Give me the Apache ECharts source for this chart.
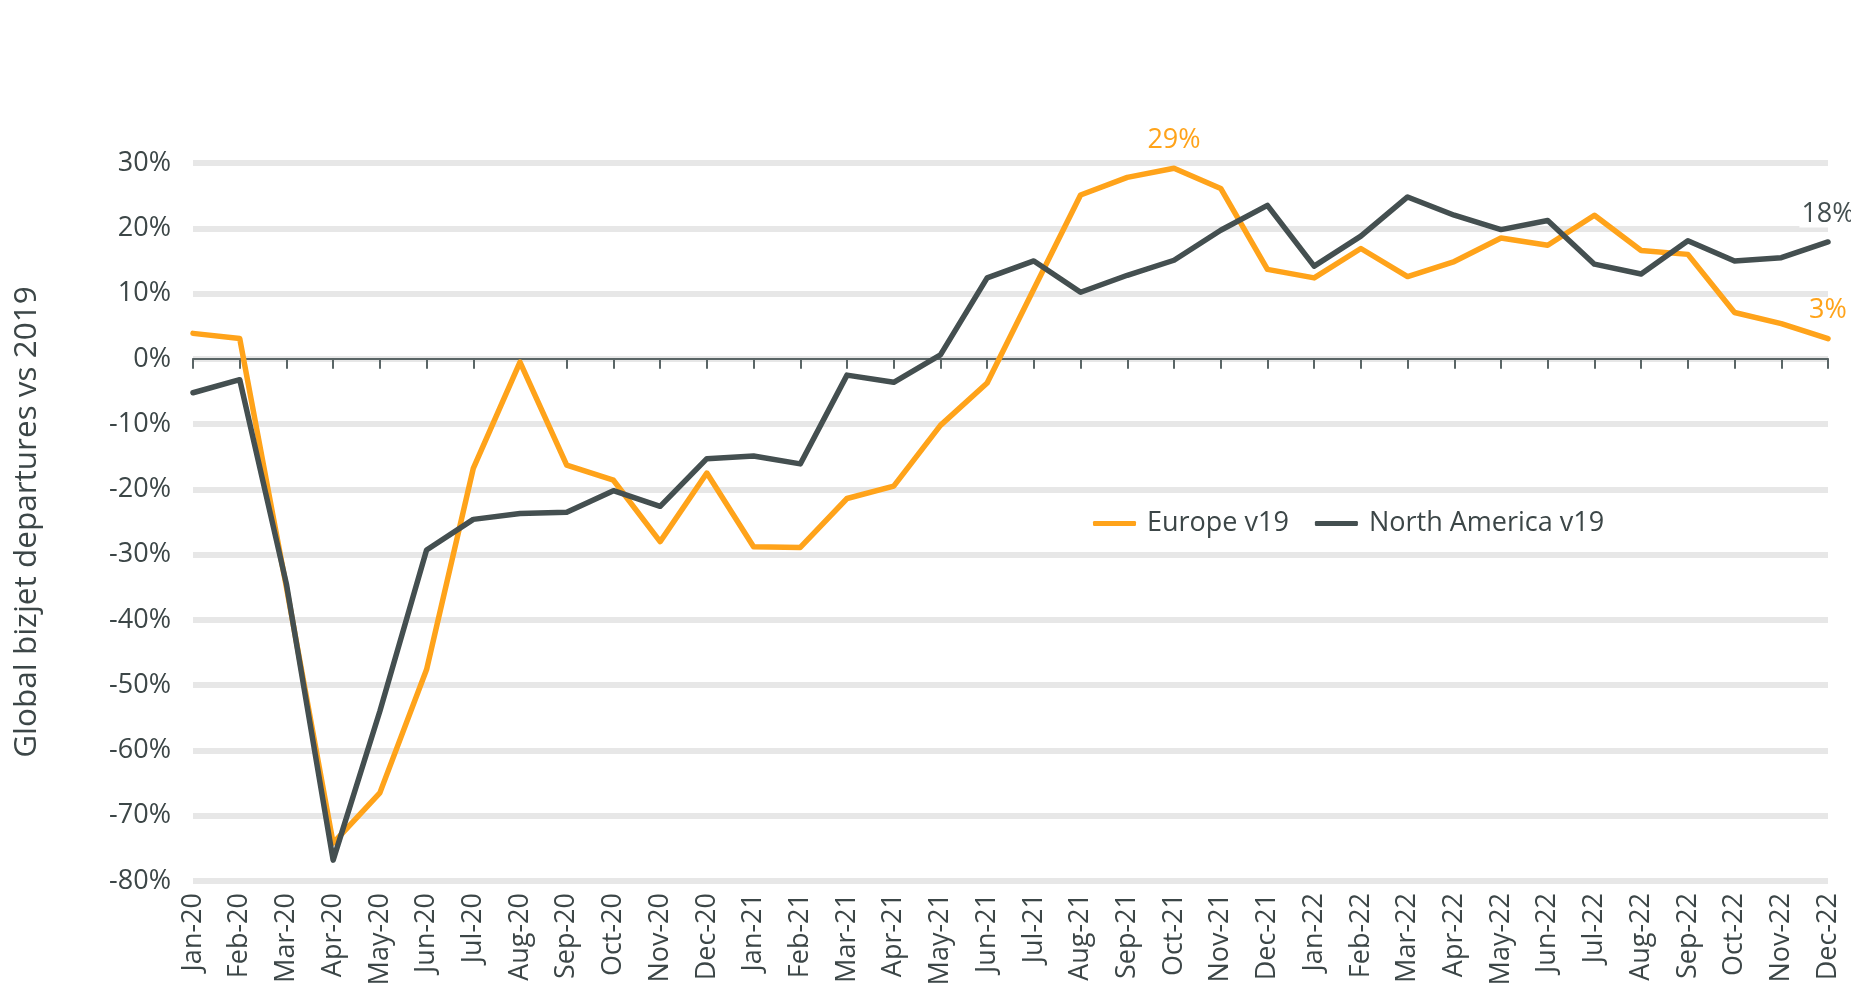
<!DOCTYPE html>
<html>

<head>
  <meta charset="utf-8">
  <script src="https://cdn.jsdelivr.net/npm/echarts@6/dist/echarts.min.js"></script>
  <style>
    html, body {
      margin: 0;
      padding: 0;
      background: #fff;
    }
    #chart {
      width: 1851px;
      height: 989px;
    }
  </style>
</head>

<body>
  <div id="chart"></div>
  <script>
    // months Jan-20 .. Dec-22
    const months = [
      'Jan-20', 'Feb-20', 'Mar-20', 'Apr-20', 'May-20', 'Jun-20', 'Jul-20', 'Aug-20', 'Sep-20', 'Oct-20', 'Nov-20', 'Dec-20',
      'Jan-21', 'Feb-21', 'Mar-21', 'Apr-21', 'May-21', 'Jun-21', 'Jul-21', 'Aug-21', 'Sep-21', 'Oct-21', 'Nov-21', 'Dec-21',
      'Jan-22', 'Feb-22', 'Mar-22', 'Apr-22', 'May-22', 'Jun-22', 'Jul-22', 'Aug-22', 'Sep-22', 'Oct-22', 'Nov-22', 'Dec-22'
    ]
    // % change vs 2019
    const europe = [
      3.9, 3.1, -35, -74.2, -66.5, -47.6, -16.8, -0.5, -16.3, -18.6, -28.0, -17.5,
      -28.8, -28.9, -21.4, -19.5, -10.2, -3.7, 10.7, 25.1, 27.8, 29.2, 26.1, 13.7,
      12.4, 16.9, 12.6, 14.9, 18.5, 17.4, 22.0, 16.6, 16.0, 7.1, 5.4, 3.1
    ]
    const northAmerica = [
      -5.2, -3.2, -34.5, -76.8, -54, -29.3, -24.6, -23.7, -23.5, -20.2, -22.6, -15.3,
      -14.9, -16.1, -2.5, -3.6, 0.6, 12.4, 15.0, 10.2, 12.8, 15.1, 19.7, 23.5,
      14.2, 18.8, 24.8, 22.0, 19.8, 21.2, 14.5, 13.0, 18.1, 15.0, 15.5, 17.9
    ]
    const yTicks = { min: -80, max: 30, step: 10 }
    // points that carry a value label
    const europeLabelAt = [21, 35]
    const naLabelAt = [35]

    const orange = '#ffa31a'
    const slate = '#444f50'
    const textColor = '#3c4647'
    const font = 'Open Sans'

    // labels on a line series hang off the symbols, so keep a tiny symbol
    function withLabels(values, idxList, color) {
      return values.map((v, i) => {
        if (idxList.indexOf(i) < 0) return v
        return {
          value: v,
          label: {
            show: true,
            position: 'top',
            distance: 14,
            color: color,
            fontFamily: font,
            fontSize: 27,
            backgroundColor: '#fff',
            padding: [0, 2],
            formatter: p => Math.round(p.value) + '%'
          }
        }
      })
    }

    const option = {
      animation: false,
      backgroundColor: '#fff',
      textStyle: { fontFamily: font },
      grid: {
        left: 193,
        right: 23,
        top: 163,
        bottom: 108
      },
      legend: {
        left: 1088,
        top: 505,
        icon: 'roundRect',
        itemWidth: 43,
        itemHeight: 5,
        itemGap: 26,
        textStyle: {
          color: textColor,
          fontSize: 27,
          fontFamily: font,
          padding: [0, 0, 0, 6]
        },
        data: ['Europe v19', 'North America v19']
      },
      xAxis: [{
        type: 'category',
        data: months,
        boundaryGap: false,
        axisLine: {
          onZero: true,
          lineStyle: { color: '#5a6566', width: 2 }
        },
        axisTick: {
          show: true,
          length: 10,
          interval: 0,
          lineStyle: { color: '#5a6566', width: 2 }
        },
        axisLabel: { show: false },
        splitLine: { show: false }
      }, {
        type: 'category',
        data: months,
        boundaryGap: false,
        position: 'bottom',
        axisLine: { show: false, onZero: false },
        axisTick: { show: false },
        axisLabel: {
          interval: 0,
          rotate: 90,
          margin: 12,
          color: textColor,
          fontSize: 27,
          fontFamily: font
        }
      }],
      yAxis: {
        type: 'value',
        min: yTicks.min,
        max: yTicks.max,
        interval: yTicks.step,
        name: 'Global bizjet departures vs 2019',
        nameLocation: 'middle',
        nameGap: 150,
        nameTextStyle: {
          color: textColor,
          fontSize: 31.5,
          fontFamily: font
        },
        axisLine: { show: false },
        axisTick: { show: false },
        axisLabel: {
          margin: 22,
          color: textColor,
          fontSize: 27,
          fontFamily: font,
          formatter: v => v + '%'
        },
        splitLine: {
          lineStyle: { color: '#e7e7e7', width: 6 }
        }
      },
      series: [{
        name: 'Europe v19',
        type: 'line',
        data: withLabels(europe, europeLabelAt, orange),
        symbol: 'circle',
        symbolSize: 1,
        showAllSymbol: true,
        itemStyle: { color: orange },
        lineStyle: { width: 5.5, color: orange, join: 'round', cap: 'round' },
        z: 3
      }, {
        name: 'North America v19',
        type: 'line',
        data: withLabels(northAmerica, naLabelAt, slate),
        symbol: 'circle',
        symbolSize: 1,
        showAllSymbol: true,
        itemStyle: { color: slate },
        lineStyle: { width: 5.5, color: slate, join: 'round', cap: 'round' },
        z: 4
      }]
    }

    drawChart('#chart', option)

    function drawChart(selector, opt) {
      const chartDom = document.querySelector(selector)
      const chart = echarts.init(chartDom, null, { renderer: 'canvas' })
      chart.setOption(opt)
    }
  </script>
</body>

</html>
